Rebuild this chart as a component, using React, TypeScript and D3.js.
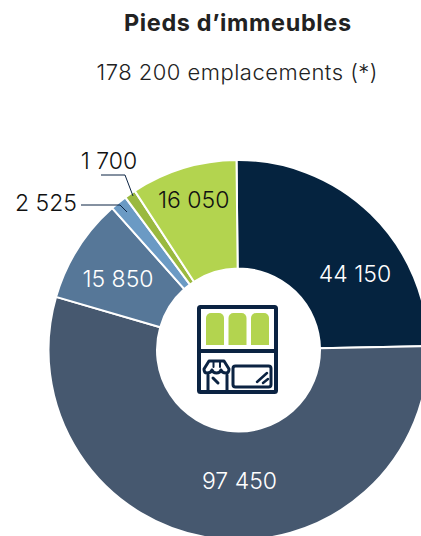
import { useEffect, useRef } from 'react'
import * as d3 from 'd3'

const labels = ['44 150', '97 450', '15 850', '2 525', '1 700', '16 050']
const values = [44150, 97450, 15850, 2525, 1700, 16050]
const colors = ['#05233f', '#46586f', '#567798', '#6b9ac4', '#9ab93f', '#b3d44f']
const labelColors = ['#ffffff', '#ffffff', '#ffffff', '#111111', '#111111', '#111111']
const title = 'Pieds d’immeubles'
const subtitle = '178 200 emplacements (*)'

const width = 421
const height = 536
const cx = 238.5
const cy = 350
const outerR = 190
const innerR = 81.5
const startAngle = (-0.6 * Math.PI) / 180
const navy = '#0b2342'
const font = 'Inter, sans-serif'

export default function App() {
  const svgRef = useRef<SVGSVGElement>(null)

  useEffect(() => {
    const svg = d3.select(svgRef.current)
    svg.selectAll('*').remove()

    svg.append('text').attr('x', 237.5).attr('y', 31).attr('text-anchor', 'middle')
      .attr('font-family', font).attr('font-size', 23.4).attr('font-weight', 700)
      .attr('textLength', 227).attr('fill', '#222').text(title)
    svg.append('text').attr('x', 237).attr('y', 79.5).attr('text-anchor', 'middle')
      .attr('font-family', font).attr('font-size', 22).attr('font-weight', 300)
      .attr('textLength', 281).attr('fill', '#222').text(subtitle)

    const pie = d3.pie<number>().sort(null).startAngle(startAngle).endAngle(startAngle + 2 * Math.PI)
    const arcs = pie(values)
    const arc = d3.arc<d3.PieArcDatum<number>>().innerRadius(innerR).outerRadius(outerR)
    const g = svg.append('g').attr('transform', `translate(${cx},${cy})`)

    g.selectAll('path').data(arcs).enter().append('path')
      .attr('d', arc)
      .attr('fill', (_, i) => colors[i])
      .attr('stroke', '#fff')
      .attr('stroke-width', 2)

    const labelArc = d3.arc<d3.PieArcDatum<number>>().innerRadius(130).outerRadius(130)
    const nudges: Record<number, [number, number]> = {
      0: [26, 25.4], 1: [18, 10.4], 2: [-10.6, 6.7], 5: [-7.1, -17.3],
    }
    arcs.forEach((d, i) => {
      if (!nudges[i]) return
      const [x, y] = labelArc.centroid(d)
      g.append('text')
        .attr('x', x + nudges[i][0])
        .attr('y', y + nudges[i][1])
        .attr('text-anchor', 'middle')
        .attr('font-family', font)
        .attr('font-size', 23)
        .attr('font-weight', 300)
        .attr('fill', labelColors[i])
        .text(labels[i])
    })

    // thin slices are labelled outside with leaders
    svg.append('text').attr('x', 46).attr('y', 210.7).attr('text-anchor', 'middle')
      .attr('font-family', font).attr('font-size', 23).attr('font-weight', 300)
      .attr('fill', labelColors[3]).text(labels[3])
    svg.append('text').attr('x', 109).attr('y', 169).attr('text-anchor', 'middle')
      .attr('font-family', font).attr('font-size', 23).attr('font-weight', 300)
      .attr('fill', labelColors[4]).text(labels[4])

    const line = d3.line()
    svg.append('path').attr('d', line([[81, 205], [120, 205], [127, 212]]))
      .attr('fill', 'none').attr('stroke', navy).attr('stroke-width', 1)
    svg.append('path').attr('d', line([[101, 175], [125, 175], [133, 196]]))
      .attr('fill', 'none').attr('stroke', navy).attr('stroke-width', 1)

    // shop icon in the middle
    const icon = svg.append('g').attr('fill', 'none').attr('stroke', navy).attr('stroke-width', 4)
      .attr('stroke-linejoin', 'round').attr('stroke-linecap', 'round')
    ;[206, 228.5, 251].forEach(x => {
      icon.append('path')
        .attr('d', `M${x} 345V318a5 5 0 0 1 5 -5h8a5 5 0 0 1 5 5V345Z`)
        .attr('fill', '#b3d44f').attr('stroke', 'none')
    })
    icon.append('rect').attr('x', 199).attr('y', 307).attr('width', 77).attr('height', 85).attr('rx', 1.5)
    icon.append('path').attr('d', 'M199 351H276')
    icon.append('path').attr('d', 'M209 361H224L229 369Q229 373 226 373Q222 373 221 370Q220 373 216.5 373Q213 373 212 370Q211 373 207 373Q204 373 204 369Z')
      .attr('stroke-width', 3)
    icon.append('path').attr('d', 'M208 375V391M227 375V391').attr('stroke-width', 3)
    icon.append('path').attr('d', 'M213 378L218 383').attr('stroke-width', 3)
    icon.append('path').attr('d', 'M213.5 361V367M220 361V367').attr('stroke-width', 2)
    icon.append('rect').attr('x', 233).attr('y', 366).attr('width', 38).attr('height', 21).attr('rx', 2.5).attr('stroke-width', 3)
    icon.append('path').attr('d', 'M257 382L267 373M263 383L268 379').attr('stroke-width', 2.5)
  }, [])

  return (
    <svg ref={svgRef} width={width} height={height}
      style={{ position: 'absolute', left: 0, top: 0, background: '#fff' }} />
  )
}
